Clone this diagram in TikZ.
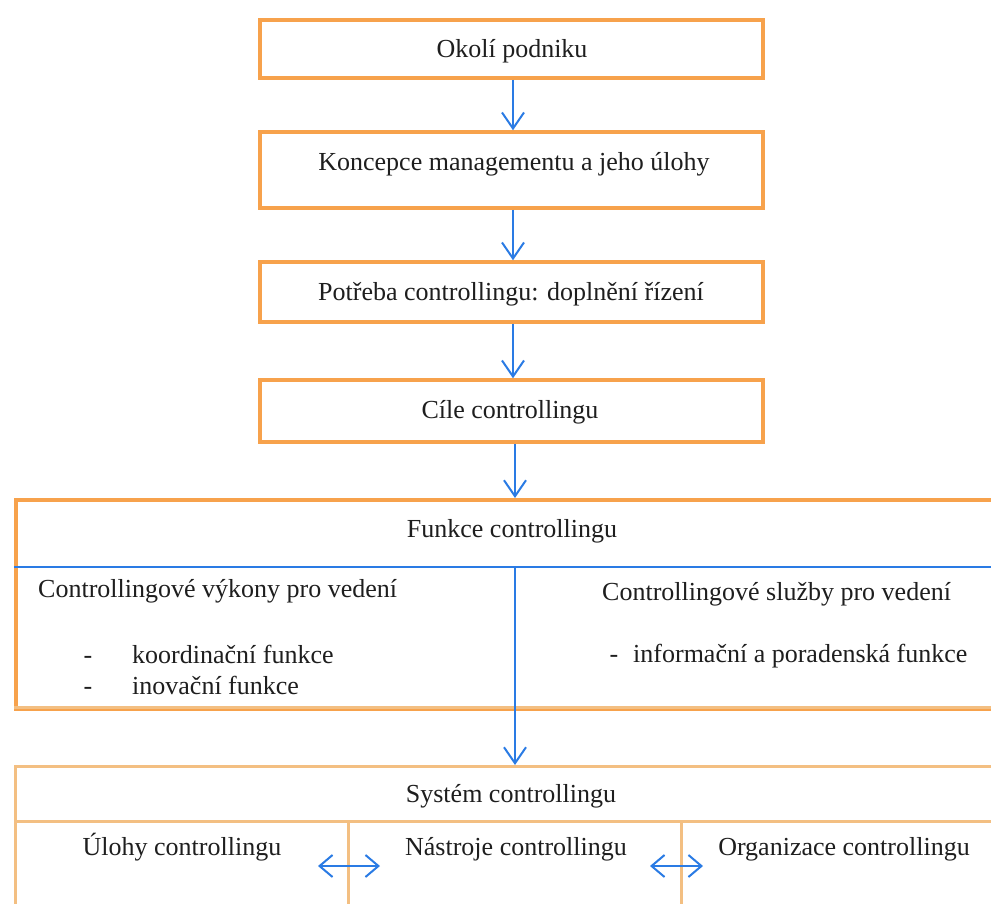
\documentclass[tikz,border=0pt]{standalone}
\usepackage{fontspec}
\setmainfont{Liberation Serif}
\usetikzlibrary{arrows.meta}
\definecolor{orng}{HTML}{F7A24C}
\definecolor{lorng}{HTML}{F3BF82}
\definecolor{arblue}{HTML}{2A7BE4}
\definecolor{txt}{HTML}{1E1E1E}
\tikzset{
  every node/.style={font=\fontsize{26}{30}\selectfont, text=txt, inner sep=0pt},
  lbl/.style={anchor=base},
  lblw/.style={anchor=base west},
  box/.style={draw=orng, line width=3.5pt, fill=white, rectangle},
  lbox/.style={draw=lorng, line width=3pt, rectangle},
  flow/.style={draw=arblue, line width=2pt, -{Straight Barb[length=16pt,width=22pt,line width=2pt]}},
  dflow/.style={draw=arblue, line width=2pt, {Straight Barb[length=13pt,width=22pt,line width=2pt]}-{Straight Barb[length=13pt,width=22pt,line width=2pt]}},
}
\begin{document}
\begin{tikzpicture}[x=1pt,y=-1pt]
\useasboundingbox (0,0) rectangle (991,903);
% top boxes
\node[box, minimum width=503pt, minimum height=58pt] (b1) at (511.5,49) {};
\node[lbl] (t1) at (512,57) {Okolí podniku};
\node[box, minimum width=503pt, minimum height=76pt] (b2) at (511.5,170) {};
\node[lbl] (t2) at (514,170) {Koncepce managementu a jeho úlohy};
\node[box, minimum width=503pt, minimum height=60pt] (b3) at (511.5,292) {};
\node[lbl] (t3) at (511,300) {Potřeba controllingu: doplnění řízení};
\node[box, minimum width=503pt, minimum height=62pt] (b4) at (511.5,411) {};
\node[lbl] (t4) at (510,418) {Cíle controllingu};
% function box
\node[box, minimum width=986pt, minimum height=209pt, anchor=north west] (fun) at (14,498) {};
\draw[lorng, line width=3pt] (14,707) -- (1000,707);
\node[lbl] (funt) at (512,537) {Funkce controllingu};
\draw[arblue, line width=2pt] (14,567) -- (1000,567);
\coordinate (split) at (515,567);
\node[lblw] (vyk) at (38,597) {Controllingové výkony pro vedení};
\node[lbl] (d1) at (88,663) {-};
\node[lblw] (koo) at (132,663) {koordinační funkce};
\node[lbl] (d2) at (88,694) {-};
\node[lblw] (ino) at (132,694) {inovační funkce};
\node[lblw] (slu) at (602,600) {Controllingové služby pro vedení};
\node[lbl] (d3) at (614,662) {-};
\node[lblw] (inf) at (633,662) {informační a poradenská funkce};
% system box
\node[lbox, minimum width=986pt, minimum height=150pt, anchor=north west] (sys) at (14,765) {};
\draw[lorng, line width=3pt] (14,821) -- (1000,821);
\draw[lorng, line width=3pt] (348,821) -- (348,910);
\draw[lorng, line width=3pt] (681,821) -- (681,910);
\node[lbl] (syst) at (511,802) {Systém controllingu};
\node[lbl] (ulo) at (182,855) {Úlohy controllingu};
\node[lbl] (nas) at (516,855) {Nástroje controllingu};
\node[lbl] (org) at (844,855) {Organizace controllingu};
\coordinate (a1) at (318,866);
\coordinate (a2) at (380,866);
\coordinate (a3) at (650,866);
\coordinate (a4) at (703,866);
% connectors
\draw[flow] (b1.south -| 513,0) -- (b2.north -| 513,0);
\draw[flow] (b2.south -| 513,0) -- (b3.north -| 513,0);
\draw[flow] (b3.south -| 513,0) -- (b4.north -| 513,0);
\draw[flow] (b4.south -| 515,0) -- (fun.north -| 515,0);
\draw[flow] (split) -- (split |- sys.north);
\draw[dflow] (a1) -- (a2);
\draw[dflow] (a3) -- (a4);
\end{tikzpicture}
\end{document}
